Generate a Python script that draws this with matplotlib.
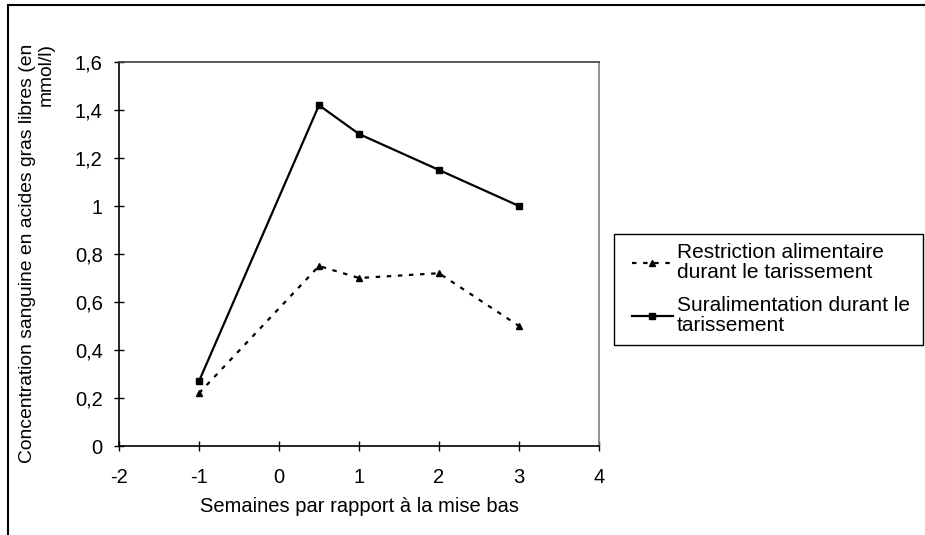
import matplotlib
matplotlib.use("Agg")
import matplotlib.pyplot as plt
from matplotlib.patches import Rectangle

plt.rcParams['font.family'] = ['Liberation Sans', 'DejaVu Sans']

weeks = [-1, 0.5, 1, 2, 3]
restriction = [0.22, 0.75, 0.70, 0.72, 0.50]
suralimentation = [0.27, 1.42, 1.30, 1.15, 1.00]
label_restriction = "Restriction alimentaire\ndurant le tarissement"
label_sural = "Suralimentation durant le\ntarissement"
xticks = [-2, -1, 0, 1, 2, 3, 4]
yticks = [0, 0.2, 0.4, 0.6, 0.8, 1.0, 1.2, 1.4, 1.6]
ytick_labels = ["0", "0,2", "0,4", "0,6", "0,8", "1", "1,2", "1,4", "1,6"]

FS = 14.5
W, H = 925, 535
fig = plt.figure(figsize=(W / 100, H / 100), dpi=100)
ax = fig.add_axes([119 / W, 1 - 446 / H, (599 - 119) / W, (446 - 62) / H])

ax.plot(weeks, restriction, color='black', lw=1.6, linestyle=(0, (2, 3)),
        marker='^', markersize=5, label=label_restriction)
ax.plot(weeks, suralimentation, color='black', lw=1.6, linestyle='-',
        marker='s', markersize=4.5, label=label_sural)

ax.set_xlim(-2, 4)
ax.set_ylim(0, 1.6)
ax.set_xticks(xticks)
ax.set_xticklabels([str(v) for v in xticks])
ax.set_yticks(yticks)
ax.set_yticklabels(ytick_labels)
ax.tick_params(direction='inout', length=7.5, width=1, labelsize=FS)
ax.tick_params(axis='x', pad=12)
ax.tick_params(axis='y', pad=8)

for s in ['left', 'bottom']:
    ax.spines[s].set_color('black')
    ax.spines[s].set_linewidth(1.2)
ax.spines['top'].set_color('#404040')
ax.spines['top'].set_linewidth(1.2)
ax.spines['right'].set_color('#808080')
ax.spines['right'].set_linewidth(1.2)

fig.text(359 / W, 1 - 506 / H, "Semaines par rapport à la mise bas",
         fontsize=FS, ha='center', va='center')
fig.text(37 / W, 1 - 253 / H,
         "Concentration sanguine en acides gras libres (en\nmmol/l)",
         fontsize=13.9, ha='center', va='center', rotation=90,
         multialignment='right', linespacing=1.1)

# legend frame drawn as a rectangle, legend content without frame
fig.patches.append(Rectangle((614 / W, 1 - 345 / H), (923 - 614) / W, (345 - 234) / H,
                             transform=fig.transFigure, fill=False,
                             edgecolor='black', linewidth=1.0, figure=fig))
leg = fig.legend(loc='upper left', bbox_to_anchor=(632 / W, 1 - 243 / H),
                 fontsize=15, frameon=False, handlelength=1.95, handletextpad=0.2,
                 labelspacing=0.65, borderpad=0, borderaxespad=0)
for t in leg.get_texts():
    t.set_linespacing(1.08)

fig.patches.append(Rectangle((8 / W, -0.1), 1.2, (1 - 5 / H) + 0.1,
                             transform=fig.transFigure, fill=False,
                             edgecolor='black', linewidth=1.5, figure=fig))

fig.savefig("out.png", dpi=100)
